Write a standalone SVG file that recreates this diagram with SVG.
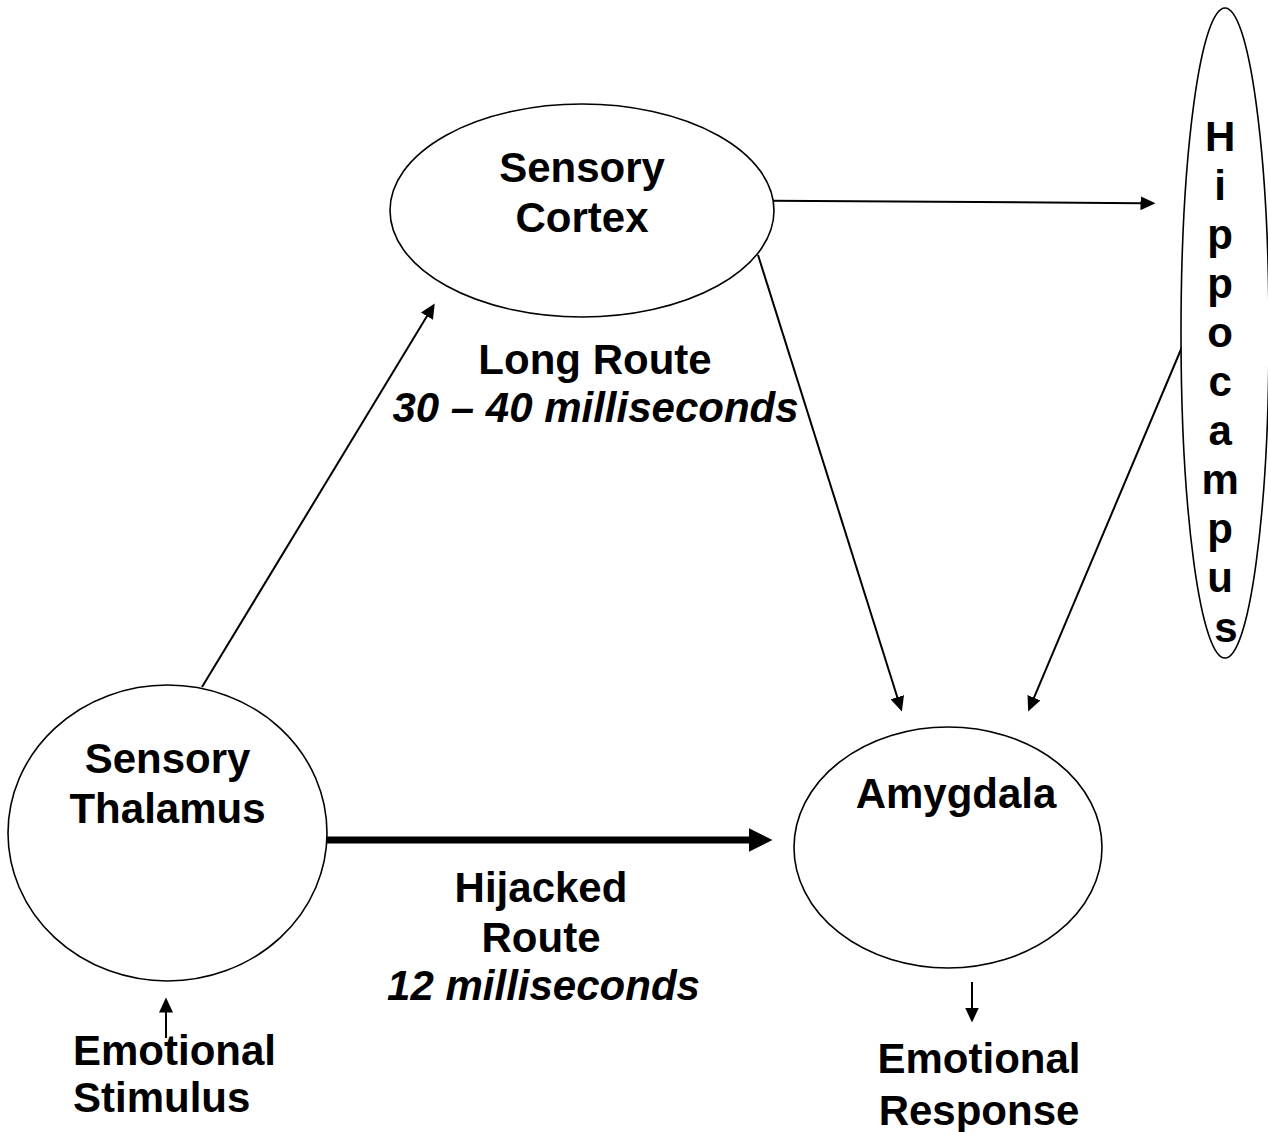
<svg xmlns="http://www.w3.org/2000/svg" width="1268" height="1132" viewBox="0 0 1268 1132">
<defs>
<style>
.node{fill:#fff;stroke:#000;stroke-width:1.6}
.t{font-family:"Liberation Sans",Arial,sans-serif;font-weight:bold;font-size:42px;fill:#000}
.c{text-anchor:middle}
.i{font-style:italic}
.con{stroke:#000;stroke-width:2;fill:none}
.thick{stroke:#000;stroke-width:7;fill:none}
</style>
<marker id="ah" markerUnits="userSpaceOnUse" markerWidth="16" markerHeight="14" refX="0.5" refY="7" orient="auto" viewBox="0 0 16 14">
<path d="M0,0 L15,7 L0,14 z" fill="#000"/>
</marker>
<marker id="ahb" markerUnits="userSpaceOnUse" markerWidth="25" markerHeight="24" refX="0.5" refY="12" orient="auto" viewBox="0 0 25 24">
<path d="M0,0 L24,12 L0,24 z" fill="#000"/>
</marker>
</defs>
<rect width="1268" height="1132" fill="#fff"/>
<g id="connectors">
<line class="con" x1="202" y1="687" x2="427.2" y2="315.8" marker-end="url(#ah)"/>
<line class="con" x1="773" y1="200.7" x2="1141" y2="203.2" marker-end="url(#ah)"/>
<line class="con" x1="758" y1="255" x2="897.5" y2="697.7" marker-end="url(#ah)"/>
<line class="con" x1="1182" y1="347" x2="1033.8" y2="698.2" marker-end="url(#ah)"/>
<line class="thick" x1="327" y1="840" x2="749" y2="840" marker-end="url(#ahb)"/>
<line class="con" x1="166" y1="1038" x2="166" y2="1012" marker-end="url(#ah)"/>
<line class="con" x1="972" y1="982" x2="972" y2="1008" marker-end="url(#ah)"/>
</g>
<g id="sensory-cortex">
<ellipse class="node" cx="582" cy="210.5" rx="192" ry="106.5"/>
<text class="t c" x="582" y="182">Sensory</text>
<text class="t c" x="582" y="232">Cortex</text>
</g>
<g id="hippocampus">
<ellipse class="node" cx="1225" cy="333" rx="44" ry="325"/>
<text class="t c" x="1226">
<tspan x="1226" y="151">H</tspan>
<tspan x="1226" y="200">i</tspan>
<tspan x="1226" y="249">p</tspan>
<tspan x="1226" y="298">p</tspan>
<tspan x="1226" y="347">o</tspan>
<tspan x="1226" y="396">c</tspan>
<tspan x="1226" y="445">a</tspan>
<tspan x="1226" y="494">m</tspan>
<tspan x="1226" y="543">p</tspan>
<tspan x="1226" y="592">u</tspan>
<tspan x="1226" y="642">s</tspan>
</text>
</g>
<g id="sensory-thalamus">
<ellipse class="node" cx="167.5" cy="833" rx="159.5" ry="148"/>
<text class="t c" x="167.5" y="773">Sensory</text>
<text class="t c" x="167.5" y="823">Thalamus</text>
</g>
<g id="amygdala">
<ellipse class="node" cx="948" cy="847.5" rx="154" ry="120.5"/>
<text class="t c" x="956" y="808">Amygdala</text>
</g>
<g id="long-route-label">
<text class="t c" x="595" y="374">Long Route</text>
<text class="t c i" x="595.5" y="422">30 – 40 milliseconds</text>
</g>
<g id="hijacked-route-label">
<text class="t c" x="541" y="902">Hijacked</text>
<text class="t c" x="541" y="952">Route</text>
<text class="t c i" x="543.5" y="1000">12 milliseconds</text>
</g>
<g id="emotional-stimulus">
<text class="t" x="73" y="1065">Emotional</text>
<text class="t" x="73" y="1112">Stimulus</text>
</g>
<g id="emotional-response">
<text class="t c" x="979" y="1073">Emotional</text>
<text class="t c" x="979" y="1125">Response</text>
</g>
</svg>
